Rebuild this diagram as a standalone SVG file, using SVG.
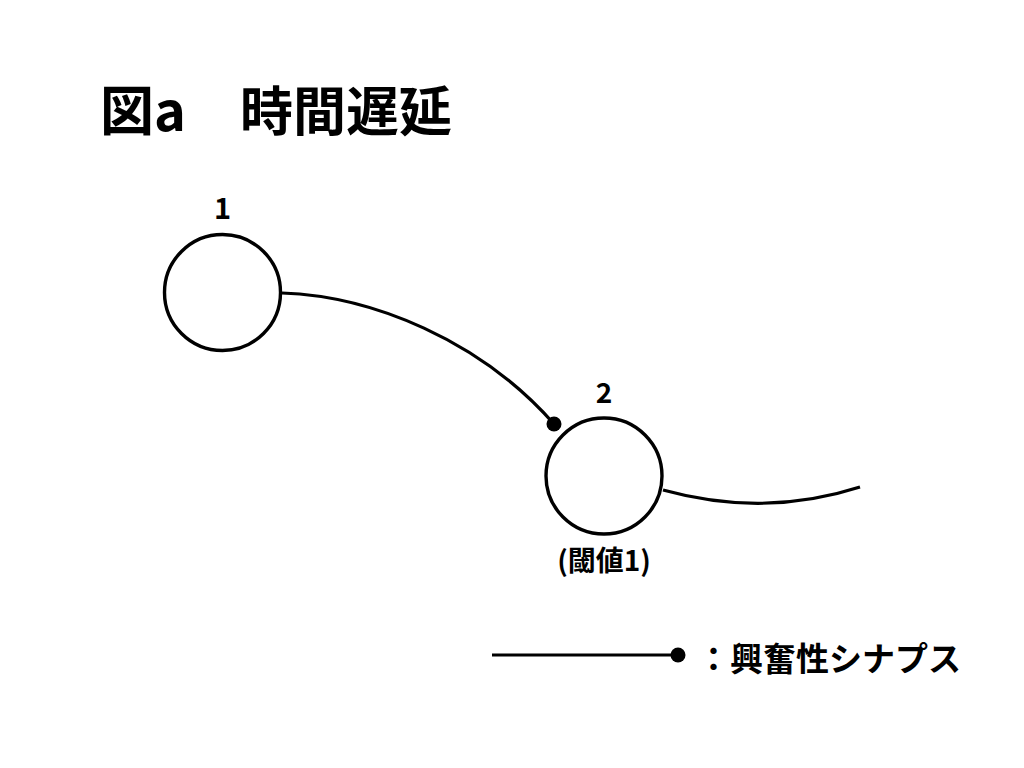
<svg xmlns="http://www.w3.org/2000/svg" width="1024" height="768" viewBox="0 0 1024 768">
<style>
text{font-family:"Noto Sans CJK JP","Noto Sans",sans-serif;font-weight:bold;fill:#000}
.node{fill:#fff;stroke:#000;stroke-width:3.4}
.edge{fill:none;stroke:#000;stroke-width:3.2}
.dot{fill:#000}
</style>
<rect width="1024" height="768" fill="#fff"/>
<g id="title">
<text x="100" y="131" font-size="54">図a</text>
<text x="240" y="131" font-size="53">時間遅延</text>
</g>
<g id="connectors">
<path class="edge" d="M282,293 C372,296 480,340 554,424"/>
<circle class="dot" cx="554" cy="424" r="7.5"/>
<path class="edge" d="M663,490 Q764,518 860,487"/>
</g>
<g id="node1">
<circle class="node" cx="222.5" cy="292.5" r="58"/>
<text x="222.5" y="219" font-size="29" text-anchor="middle">1</text>
</g>
<g id="node2">
<circle class="node" cx="604" cy="476" r="58"/>
<text x="604" y="403" font-size="28" text-anchor="middle">2</text>
<text x="604" y="571" font-size="28" text-anchor="middle">(閾値1)</text>
</g>
<g id="legend">
<line class="edge" x1="492" y1="655" x2="678" y2="655"/>
<circle class="dot" cx="678" cy="655" r="7.5"/>
<text x="697" y="671" font-size="33">：興奮性シナプス</text>
</g>
</svg>
